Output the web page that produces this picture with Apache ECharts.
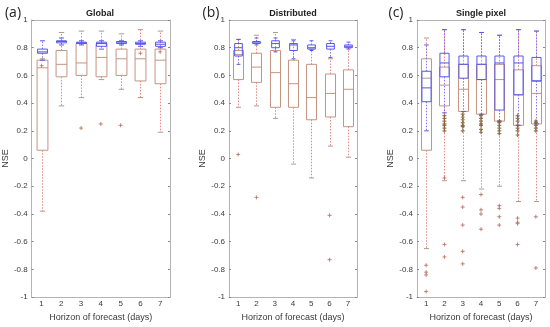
<!DOCTYPE html>
<html><head><meta charset="utf-8">
<script src="https://cdn.jsdelivr.net/npm/echarts@6/dist/echarts.min.js"></script>
<style>html,body{margin:0;padding:0;background:#fff}#c{width:550px;height:327px}</style>
</head><body><div id="c"></div>
<script>
const categories = ['1','2','3','4','5','6','7'];
const panelTitles = ['Global', 'Distributed', 'Single pixel'];
const panelLetters = ['(a)', '(b)', '(c)'];

// each row: [lower whisker, q1, median, q3, upper whisker]
const globalRed = [
  [-0.38, 0.06, 0.655, 0.71, 0.72],
  [0.38, 0.59, 0.68, 0.78, 0.91],
  [0.44, 0.60, 0.69, 0.83, 0.92],
  [0.57, 0.59, 0.73, 0.83, 0.92],
  [0.50, 0.60, 0.72, 0.79, 0.90],
  [0.44, 0.56, 0.72, 0.79, 0.93],
  [0.19, 0.54, 0.71, 0.79, 0.92]
];
const globalBlue = [
  [0.71, 0.76, 0.77, 0.79, 0.85],
  [0.82, 0.835, 0.845, 0.85, 0.87],
  [0.82, 0.83, 0.835, 0.84, 0.85],
  [0.79, 0.81, 0.83, 0.84, 0.85],
  [0.82, 0.83, 0.835, 0.845, 0.85],
  [0.81, 0.825, 0.83, 0.84, 0.85],
  [0.80, 0.81, 0.825, 0.84, 0.85]
];
const globalOutliers = [[0, 0.67], [2, 0.22], [3, 0.25], [4, 0.24], [5, 0.76], [6, 0.77]];

const distRed = [
  [0.37, 0.57, 0.75, 0.78, 0.86],
  [0.38, 0.55, 0.66, 0.76, 0.89],
  [0.29, 0.37, 0.62, 0.78, 0.91],
  [-0.04, 0.37, 0.54, 0.71, 0.86],
  [-0.14, 0.28, 0.44, 0.68, 0.79],
  [0.09, 0.30, 0.47, 0.61, 0.72],
  [0.01, 0.23, 0.50, 0.64, 0.80]
];
const distBlue = [
  [0.68, 0.74, 0.80, 0.83, 0.86],
  [0.82, 0.83, 0.84, 0.845, 0.87],
  [0.77, 0.80, 0.83, 0.85, 0.87],
  [0.72, 0.78, 0.82, 0.83, 0.85],
  [0.78, 0.79, 0.80, 0.82, 0.85],
  [0.73, 0.79, 0.81, 0.83, 0.85],
  [0.79, 0.80, 0.81, 0.82, 0.84]
];
const distOutliers = [[0, 0.03], [1, -0.28], [5, -0.41], [5, -0.73]];

const pixelRed = [
  [-0.65, 0.06, 0.58, 0.72, 0.87],
  [-0.16, 0.38, 0.53, 0.66, 0.93],
  [-0.16, 0.34, 0.50, 0.68, 0.93],
  [-0.22, 0.32, 0.57, 0.68, 0.91],
  [-0.20, 0.27, 0.57, 0.68, 0.89],
  [-0.31, 0.24, 0.46, 0.64, 0.93],
  [-0.31, 0.25, 0.47, 0.67, 0.92]
];
const pixelBlue = [
  [0.20, 0.41, 0.51, 0.63, 0.82],
  [0.33, 0.59, 0.69, 0.76, 0.93],
  [0.34, 0.58, 0.68, 0.74, 0.93],
  [0.32, 0.57, 0.68, 0.74, 0.91],
  [0.27, 0.35, 0.69, 0.74, 0.89],
  [0.24, 0.46, 0.69, 0.74, 0.93],
  [0.25, 0.56, 0.56, 0.73, 0.92]
];
const pixelOutliers = [
  [0, -0.77], [0, -0.82], [0, -0.84], [0, -0.96],
  [1, -0.14], [1, -0.62], [1, -0.71],
  [2, -0.28], [2, -0.35], [2, -0.48], [2, -0.67], [2, -0.76],
  [3, -0.26], [3, -0.37], [3, -0.40], [3, -0.51],
  [4, -0.34], [4, -0.36], [4, -0.42], [4, -0.48],
  [5, -0.43], [5, -0.46], [5, -0.47], [5, -0.62],
  [6, -0.42], [6, -0.79]
];
const pixelCluster = [
  [1, 0.20], [1, 0.22], [1, 0.24], [1, 0.25], [1, 0.27], [1, 0.29], [1, 0.31],
  [2, 0.20], [2, 0.23], [2, 0.24], [2, 0.26], [2, 0.28], [2, 0.30], [2, 0.32],
  [3, 0.19], [3, 0.21], [3, 0.24], [3, 0.25], [3, 0.27], [3, 0.29], [3, 0.31],
  [4, 0.18], [4, 0.20], [4, 0.22], [4, 0.24], [4, 0.26], [4, 0.27],
  [5, 0.17], [5, 0.20], [5, 0.22], [5, 0.24], [5, 0.27], [5, 0.29], [5, 0.31],
  [6, 0.20], [6, 0.22], [6, 0.24], [6, 0.26], [6, 0.27]
];

const panelsRed = [globalRed, distRed, pixelRed];
const panelsBlue = [globalBlue, distBlue, pixelBlue];
const panelsOut = [globalOutliers, distOutliers, pixelOutliers];

const gridPos = [
  {left: 31, top: 20, width: 139, height: 282},
  {left: 229, top: 20, width: 128, height: 282},
  {left: 417, top: 20, width: 128, height: 282}
];

const RED_BOX = '#c49482';
const RED_WHISK = '#e28a86';
const BLUE = '#5656ee';
const AXIS = '#b4b4b4';
const TXT = '#3a3a3a';
const FONT = '"Liberation Sans", Arial, sans-serif';

function toRows(arr) { return arr.map((r, i) => [i].concat(r)); }

function makeRender(frac, boxColor, whiskColor, capColor) {
  return function (params, api) {
    const x = api.value(0);
    const band = api.size([1, 0])[0];
    const w = band * frac;
    const pLow = api.coord([x, api.value(1)]);
    const pQ1 = api.coord([x, api.value(2)]);
    const pMed = api.coord([x, api.value(3)]);
    const pQ3 = api.coord([x, api.value(4)]);
    const pHigh = api.coord([x, api.value(5)]);
    const cx = Math.round(pMed[0]) + 0.5;
    const cw = w * 0.5;
    const dash = {stroke: whiskColor, lineWidth: 1, lineDash: [1.5, 1.5]};
    return {type: 'group', children: [
      {type: 'line', shape: {x1: cx, y1: pQ1[1], x2: cx, y2: pLow[1]}, style: dash},
      {type: 'line', shape: {x1: cx, y1: pQ3[1], x2: cx, y2: pHigh[1]}, style: dash},
      {type: 'line', shape: {x1: cx - cw / 2, y1: pLow[1], x2: cx + cw / 2, y2: pLow[1]}, style: {stroke: capColor, lineWidth: 1}},
      {type: 'line', shape: {x1: cx - cw / 2, y1: pHigh[1], x2: cx + cw / 2, y2: pHigh[1]}, style: {stroke: capColor, lineWidth: 1}},
      {type: 'rect', shape: {x: cx - w / 2, y: pQ3[1], width: w, height: pQ1[1] - pQ3[1]}, style: {fill: 'none', stroke: boxColor, lineWidth: 1}},
      {type: 'line', shape: {x1: cx - w / 2, y1: pMed[1], x2: cx + w / 2, y2: pMed[1]}, style: {stroke: boxColor, lineWidth: 1}}
    ]};
  };
}

const plusPath = 'path://M0,5L10,5M5,0L5,10';

const grid = [], xAxis = [], yAxis = [], series = [], graphic = [];
for (let p = 0; p < 3; p++) {
  grid.push(Object.assign({}, gridPos[p]));
  xAxis.push({
    type: 'category', data: categories, gridIndex: p, position: 'bottom',
    name: 'Horizon of forecast (days)', nameLocation: 'middle', nameGap: 11,
    nameTextStyle: {fontFamily: FONT, fontSize: 9, color: TXT},
    axisLine: {onZero: false, lineStyle: {color: AXIS}},
    axisTick: {inside: true, alignWithLabel: true, length: 2, lineStyle: {color: '#888'}},
    axisLabel: {fontFamily: FONT, fontSize: 8, color: TXT, margin: 3},
    splitLine: {show: false}
  });
  yAxis.push({
    type: 'value', gridIndex: p, min: -1, max: 1, interval: 0.2, position: 'left',
    name: 'NSE', nameLocation: 'middle', nameGap: 17, nameRotate: 90,
    nameTextStyle: {fontFamily: FONT, fontSize: 9, color: TXT},
    axisLine: {show: true, onZero: false, lineStyle: {color: AXIS}},
    axisTick: {show: true, inside: true, length: 2, lineStyle: {color: '#888'}},
    axisLabel: {fontFamily: FONT, fontSize: 8, color: TXT, margin: 4,
      formatter: v => String(Math.round(v * 10) / 10)},
    splitLine: {show: false}
  });
}
for (let p = 0; p < 3; p++) {
  xAxis.push({
    type: 'category', data: categories, gridIndex: p, position: 'top',
    axisLine: {onZero: false, lineStyle: {color: AXIS}},
    axisTick: {inside: true, alignWithLabel: true, length: 2, lineStyle: {color: '#888'}},
    axisLabel: {show: false}, splitLine: {show: false}
  });
  yAxis.push({
    type: 'value', gridIndex: p, min: -1, max: 1, interval: 0.2, position: 'right',
    axisLine: {show: true, onZero: false, lineStyle: {color: AXIS}},
    axisTick: {show: true, inside: true, length: 2, lineStyle: {color: '#888'}},
    axisLabel: {show: false}, splitLine: {show: false}
  });
}
for (let p = 0; p < 3; p++) {
  series.push({
    type: 'custom', xAxisIndex: p, yAxisIndex: p,
    renderItem: makeRender(0.55, RED_BOX, RED_WHISK, '#b09a90'),
    encode: {x: 0, y: [1, 2, 3, 4, 5]},
    data: toRows(panelsRed[p]), silent: true, z: 2
  });
  series.push({
    type: 'custom', xAxisIndex: p, yAxisIndex: p,
    renderItem: makeRender(p === 1 ? 0.42 : 0.5, BLUE, '#8a70e8', BLUE),
    encode: {x: 0, y: [1, 2, 3, 4, 5]},
    data: toRows(panelsBlue[p]), silent: true, z: 3
  });
  series.push({
    type: 'scatter', xAxisIndex: p, yAxisIndex: p,
    symbol: plusPath, symbolSize: 4,
    itemStyle: {color: 'none', borderColor: '#b06a5a', borderWidth: 1},
    data: panelsOut[p], silent: true, z: 4
  });
}
series.push({
  type: 'scatter', xAxisIndex: 2, yAxisIndex: 2,
  symbol: plusPath, symbolSize: 4,
  itemStyle: {color: 'none', borderColor: '#7a5a30', borderWidth: 1.2},
  data: pixelCluster, silent: true, z: 4
});

const titleX = [100, 293, 481];
const letterX = [13, 211, 396];
for (let p = 0; p < 3; p++) {
  graphic.push({type: 'text', x: titleX[p], y: 14,
    style: {text: panelTitles[p], fontFamily: FONT, fontSize: 9, fontWeight: 'bold', fill: '#222', textAlign: 'center', textVerticalAlign: 'middle'}});
  graphic.push({type: 'text', x: letterX[p], y: 13,
    style: {text: panelLetters[p], fontFamily: '"Open Sans", sans-serif', fontSize: 14, fill: '#222', textAlign: 'center', textVerticalAlign: 'middle'}});
}

const chart = echarts.init(document.getElementById('c'), null, {renderer: 'canvas'});
chart.setOption({animation: false, backgroundColor: '#fff', grid, xAxis, yAxis, series, graphic});
</script></body></html>
